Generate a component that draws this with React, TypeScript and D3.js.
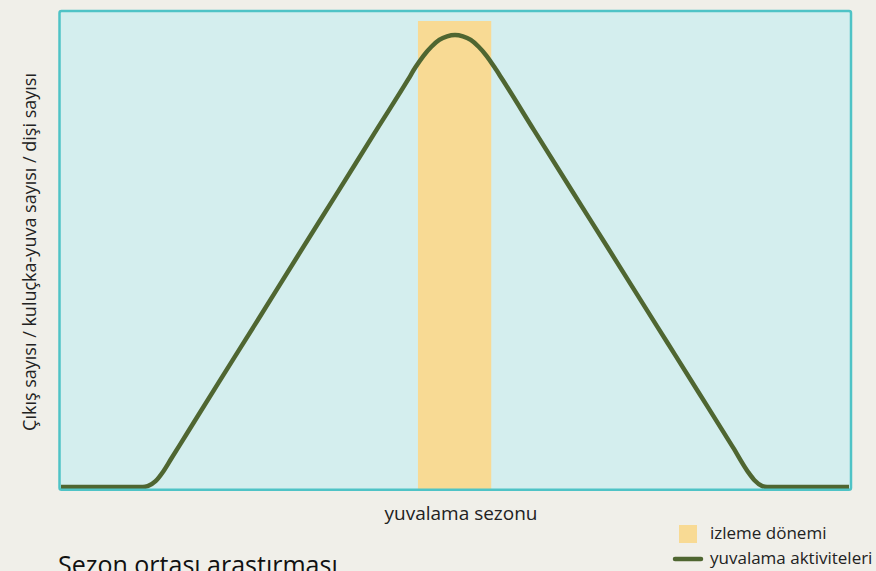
import React from "react";
import * as d3 from "d3";

const seasonX = [0, 10.4, 11, 12, 13, 14, 16, 20, 25, 30, 35, 40, 44, 45, 46, 47, 48, 49, 50, 51, 52, 53, 54, 55, 56, 60, 65, 69.3, 73.5, 77, 81, 85.3, 87.2, 88, 89, 89.6, 100];
const activity = [0, 0, 0.2, 1.3, 3.5, 6.3, 11.9, 23.1, 37.0, 51.0, 64.9, 78.9, 90.0, 92.9, 95.4, 97.4, 98.9, 99.7, 100, 99.7, 98.9, 97.4, 95.4, 92.9, 90.2, 79.0, 65.1, 53.2, 41.5, 31.8, 20.7, 8.7, 3.3, 1.5, 0.2, 0, 0];
const monitoringPeriod = [45.3, 54.6];
const monitoringTop = 103.1;

const yLabel = "Çıkış sayısı / kuluçka-yuva sayısı / dişi sayısı";
const xLabel = "yuvalama sezonu";
const title = "Sezon ortası araştırması";
const legendLabels = ["izleme dönemi", "yuvalama aktiviteleri"];

const W = 876;
const H = 571;
const FONT = "'Open Sans', 'Noto Sans', sans-serif";

export default function App() {
  const x = d3.scaleLinear().domain([0, 100]).range([61, 849]);
  const y = d3.scaleLinear().domain([0, 100]).range([487, 35]);
  const pts = seasonX.map((v, i) => [v, activity[i]] as [number, number]);
  const line = d3
    .line<[number, number]>()
    .x((d) => x(d[0]))
    .y((d) => y(d[1]))
    .curve(d3.curveMonotoneX);

  return (
    <svg
      width={W}
      height={H}
      style={{ position: "absolute", left: 0, top: 0, display: "block" }}
    >
      <rect x={0} y={0} width={W} height={H} fill="#f0efe9" />
      <rect x={59.5} y={11} width={791.5} height={478.7} rx={2} fill="#d4eeee" />
      <rect
        x={x(monitoringPeriod[0])}
        y={y(monitoringTop)}
        width={x(monitoringPeriod[1]) - x(monitoringPeriod[0])}
        height={489 - y(monitoringTop)}
        fill="#f8da94"
      />
      <path d={line(pts) || ""} fill="none" stroke="#4f6631" strokeWidth={4.5} strokeLinejoin="round" />
      <rect x={59.5} y={11} width={791.5} height={478.7} rx={2} fill="none" stroke="#4fc3c6" strokeWidth={2.5} />

      <text
        transform="translate(35.5,252) rotate(-90)"
        textAnchor="middle"
        fontFamily={FONT}
        fontSize={18}
        fill="#222"
      >
        {yLabel}
      </text>
      <text x={461} y={520} textAnchor="middle" fontFamily={FONT} fontSize={19} fill="#222">
        {xLabel}
      </text>
      <text x={58} y={574} fontFamily={FONT} fontSize={25} fill="#111">
        {title}
      </text>

      <rect x={679} y={525} width={18} height={18} fill="#f8da94" />
      <text x={710} y={539} fontFamily={FONT} fontSize={17} fill="#222">
        {legendLabels[0]}
      </text>
      <line x1={675} y1={559} x2={701} y2={559} stroke="#4f6631" strokeWidth={4.5} strokeLinecap="round" />
      <text x={710} y={564} fontFamily={FONT} fontSize={17} fill="#222">
        {legendLabels[1]}
      </text>
    </svg>
  );
}
